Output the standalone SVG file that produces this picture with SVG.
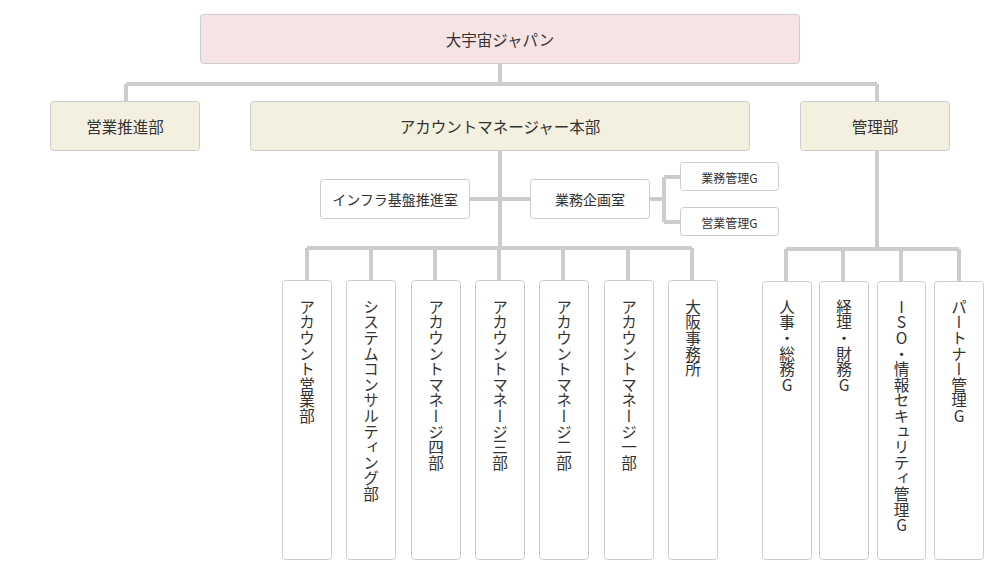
<svg xmlns="http://www.w3.org/2000/svg" width="1000" height="580" viewBox="0 0 1000 580">
<style>
.box{stroke:#cccccc;stroke-width:1;}
.top{fill:#f5e3e5;}
.dept{fill:#f3f0e0;}
.plain{fill:#ffffff;}
.t{font-family:"Noto Sans CJK JP","Noto Sans",sans-serif;fill:#333333;text-anchor:middle;dominant-baseline:central;}
.t15{font-size:15.5px;}
.t14{font-size:14px;}
.t12{font-size:12px;}
.v{font-family:"Noto Sans CJK JP","Noto Sans",sans-serif;fill:#333333;font-size:15.6px;writing-mode:vertical-rl;text-orientation:upright;text-anchor:start;}
.ln{stroke:#cccccc;stroke-width:4;fill:none;}
</style>
<rect width="1000" height="580" fill="#ffffff"/>
<g id="connectors">
<path class="ln" d="M500 63V84M126 84H877M126 84V101M877 84V101"/>
<path class="ln" d="M500 150V248M307 248H692"/>
<path class="ln" d="M307 248V280M371 248V280M435 248V280M499 248V280M563 248V280M628 248V280M692 248V280"/>
<path class="ln" d="M470 199H530"/>
<path class="ln" d="M650 199H664M664 177V222M664 177H680M664 222H680"/>
<path class="ln" d="M877 150V249M786 249H959M786 249V281M843 249V281M901 249V281M959 249V281"/>
</g>
<g id="n-top"><rect class="box top" x="200.5" y="14.5" width="599" height="49" rx="3"/><text class="t t15" x="500" y="39">大宇宙ジャパン</text></g>
<g id="n-eigyo-suishin"><rect class="box dept" x="50.5" y="101.5" width="149" height="49" rx="3"/><text class="t t15" x="125" y="126">営業推進部</text></g>
<g id="n-am-honbu"><rect class="box dept" x="250.5" y="101.5" width="499" height="49" rx="3"/><text class="t t15" x="500" y="126">アカウントマネージャー本部</text></g>
<g id="n-kanri"><rect class="box dept" x="800.5" y="101.5" width="149" height="49" rx="3"/><text class="t t15" x="875" y="126">管理部</text></g>
<g id="n-infra"><rect class="box plain" x="320.5" y="179.5" width="149" height="39" rx="3"/><text class="t t14" x="395" y="199">インフラ基盤推進室</text></g>
<g id="n-kikaku"><rect class="box plain" x="530.5" y="179.5" width="119" height="39" rx="3"/><text class="t t14" x="590" y="199">業務企画室</text></g>
<g id="n-gyomu-kanri"><rect class="box plain" x="680.5" y="162.5" width="98" height="28" rx="3"/><text class="t t12" x="729.5" y="177">業務管理G</text></g>
<g id="n-eigyo-kanri"><rect class="box plain" x="680.5" y="207.5" width="98" height="28" rx="3"/><text class="t t12" x="729.5" y="222">営業管理G</text></g>
<g id="n-acc-eigyo"><rect class="box plain" x="282.5" y="280.5" width="49" height="279" rx="3"/><text class="v" x="307" y="299">アカウント営業部</text></g>
<g id="n-system"><rect class="box plain" x="346.5" y="280.5" width="49" height="279" rx="3"/><text class="v" x="371" y="299">システムコンサルティング部</text></g>
<g id="n-am4"><rect class="box plain" x="411.5" y="280.5" width="49" height="279" rx="3"/><text class="v" x="436" y="299">アカウントマネージ四部</text></g>
<g id="n-am3"><rect class="box plain" x="475.5" y="280.5" width="49" height="279" rx="3"/><text class="v" x="500" y="299">アカウントマネージ三部</text></g>
<g id="n-am2"><rect class="box plain" x="539.5" y="280.5" width="49" height="279" rx="3"/><text class="v" x="564" y="299">アカウントマネージ二部</text></g>
<g id="n-am1"><rect class="box plain" x="604.5" y="280.5" width="49" height="279" rx="3"/><text class="v" x="629" y="299">アカウントマネージ一部</text></g>
<g id="n-osaka"><rect class="box plain" x="668.5" y="280.5" width="49" height="279" rx="3"/><text class="v" x="693" y="299">大阪事務所</text></g>
<g id="n-jinji"><rect class="box plain" x="762.5" y="281.5" width="49" height="278" rx="3"/><text class="v" x="787" y="299">人事・総務G</text></g>
<g id="n-keiri"><rect class="box plain" x="819.5" y="281.5" width="49" height="278" rx="3"/><text class="v" x="844" y="299">経理・財務G</text></g>
<g id="n-iso"><rect class="box plain" x="877.5" y="281.5" width="48" height="278" rx="3"/><text class="v" x="901.5" y="299">ISO・情報セキュリティ管理G</text></g>
<g id="n-partner"><rect class="box plain" x="934.5" y="281.5" width="49" height="278" rx="3"/><text class="v" x="959" y="299">パートナー管理G</text></g>
</svg>
